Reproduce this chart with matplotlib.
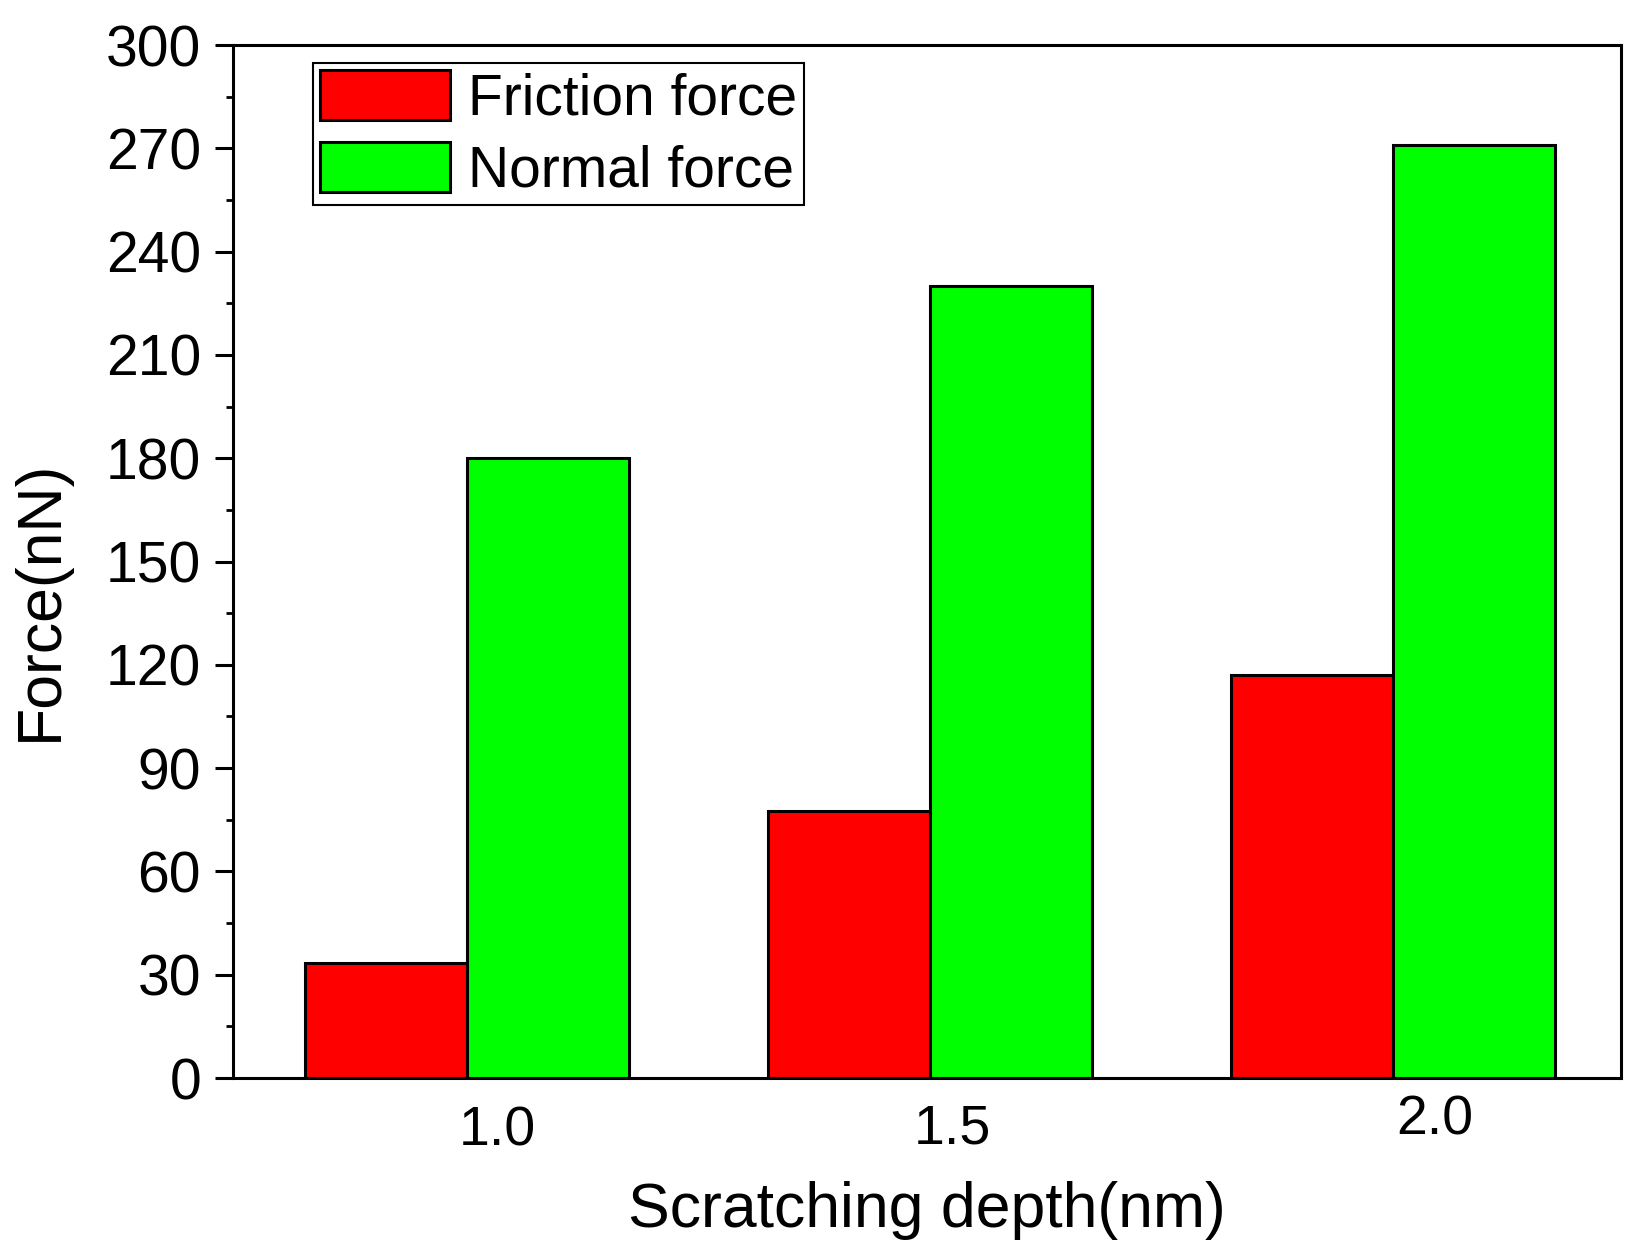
import matplotlib
matplotlib.use("Agg")
import matplotlib.pyplot as plt
import matplotlib.transforms as mtransforms
from matplotlib.ticker import MultipleLocator
import numpy as np

plt.rcParams['font.family'] = ['Liberation Sans', 'DejaVu Sans']

depths = [1.0, 1.5, 2.0]
depth_labels = ['1.0', '1.5', '2.0']
friction = [33.5, 77.5, 117.0]
normal = [180.0, 230.0, 271.0]
series_names = ['Friction force', 'Normal force']

fig = plt.figure(figsize=(16.37, 12.47), dpi=100)
ax = fig.add_axes([0.1423, 0.1355, 0.9902 - 0.1423, 0.9639 - 0.1355])

w = 0.175
x = np.array(depths)
ax.bar(x - w / 2, friction, width=w, color='#FF0000', edgecolor='black',
       linewidth=2.2, label=series_names[0])
ax.bar(x + w / 2, normal, width=w, color='#00FF00', edgecolor='black',
       linewidth=2.2, label=series_names[1])

ax.set_xlim(0.747, 2.246)
ax.set_ylim(0, 300)
ax.yaxis.set_major_locator(MultipleLocator(30))
ax.yaxis.set_minor_locator(MultipleLocator(15))
ax.set_xticks(depths)
ax.set_xticklabels(depth_labels)

for s in ax.spines.values():
    s.set_linewidth(2.2)

ax.tick_params(axis='y', which='major', direction='out', length=13, width=2.2,
               labelsize=41, pad=10, right=False)
ax.tick_params(axis='y', which='minor', direction='out', length=5, width=2.0,
               right=False)
ax.tick_params(axis='x', which='both', length=0, labelsize=40, pad=20, top=False)

# small individual offsets of the x tick labels (in pixels)
offsets = [(30, 0), (22, 2), (42, 11)]
for lab, (dx, dy) in zip(ax.get_xticklabels(), offsets):
    off = mtransforms.ScaledTranslation(dx / 100, dy / 100, fig.dpi_scale_trans)
    lab.set_transform(lab.get_transform() + off)

ax.set_xlabel('Scratching depth(nm)', fontsize=45)
ax.xaxis.set_label_coords(0.5, -0.128)
ax.xaxis.label.set_va('center')
ax.set_ylabel('Force(nN)', fontsize=45, va='center')
ax.yaxis.set_label_coords(-0.139, 0.462)

leg = ax.legend(loc='upper left', bbox_to_anchor=(0.0576, 0.9826),
                borderaxespad=0, fontsize=41, frameon=True, fancybox=False,
                edgecolor='black', framealpha=1, handlelength=2.28,
                handleheight=0.98, handletextpad=0.33, borderpad=0.12,
                labelspacing=0.27)
leg.get_frame().set_linewidth(1.5)

fig.savefig('out.png', dpi=100)
